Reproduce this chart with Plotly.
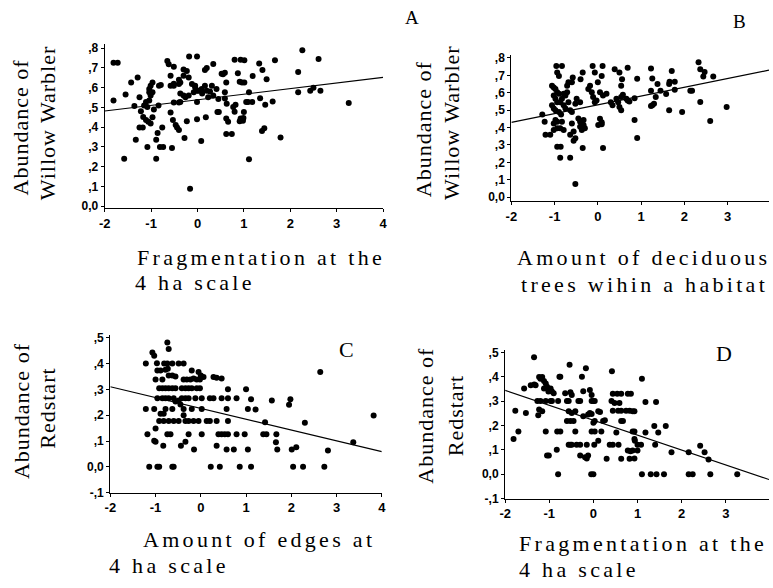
import plotly.graph_objects as go

W, H = 773, 588

# ---------------- data ----------------
# Panel A: Willow Warbler vs fragmentation (4 ha)
a_x = [-1.81, -1.72, -1.81, -1.55, -1.58, -1.43, -1.29, -1.36, -1.33, -1.25, -1.22, -1.25,
       -1.11, -1.15, -1.08, -1.04, -1.01, -1.04, -0.97, -1.01, -0.97, -1.04,
       -1.17, -1.11, -1.06, -1.01, -1.18,
       -1.08, -0.89, -0.89, -0.81, -0.74, -0.86, -0.76, -0.83, -0.79, -0.84, -0.94, -0.97,
       -0.65, -0.62, -0.51, -0.58, -0.55, -0.58, -0.51,
       -0.58, -0.53, -0.47, -0.44, -0.40,
       -0.37, -0.40, -0.37, -0.30, -0.23, -0.19, -0.28, -0.23, -0.30, -0.26, -0.19,
       -0.18, -0.01, -0.16,
       -0.12, -0.05, -0.08, -0.01, -0.01, -0.01, 0.08, 0.18, 0.16, 0.20, 0.34,
       0.09, 0.16, 0.20, 0.31, 0.41, 0.23, 0.34, 0.45,
       0.43, 0.46, 0.52, 0.55, 0.59, 0.62, 0.59, 0.59, 0.63, 0.62, 0.74, 0.62, 0.66,
       0.77, 0.82, 0.80, 0.87, 0.80, 0.93, 0.91, 0.96, 1.01, 0.93, 0.99, 0.91, 0.98, 1.05,
       -0.51, -0.40, -0.30, -0.05, 0.02, 0.10, 0.27, -0.37, -0.51, -0.40,
       1.33, 1.40, 1.19, 1.49, 1.67, 1.11, 1.09, 1.18, 1.35, 1.46, 1.62, 1.39, 1.44, 1.79,
       1.11, 2.26, 2.61, 2.17, 2.17, 2.43, 2.50, 2.65, 3.26, 1.01, 1.00]
a_y = [0.726, 0.726, 0.535, 0.565, 0.240, 0.626, 0.651, 0.507, 0.336, 0.552, 0.480, 0.398,
       0.527, 0.510, 0.502, 0.535, 0.560, 0.577, 0.577, 0.610, 0.626, 0.593,
       0.452, 0.436, 0.427, 0.419, 0.398,
       0.300, 0.240, 0.336, 0.300, 0.300, 0.370, 0.398, 0.610, 0.613, 0.510, 0.490, 0.450,
       0.735, 0.718, 0.706, 0.660, 0.295, 0.610, 0.610,
       0.474, 0.436, 0.411, 0.398, 0.386,
       0.527, 0.618, 0.626, 0.692, 0.684, 0.651, 0.345, 0.430, 0.560, 0.552, 0.560,
       0.758, 0.758, 0.088,
       0.618, 0.601, 0.577, 0.585, 0.527, 0.440, 0.330, 0.450, 0.690, 0.700, 0.720,
       0.593, 0.610, 0.585, 0.610, 0.593, 0.552, 0.560, 0.543,
       0.477, 0.477, 0.670, 0.668, 0.676, 0.626, 0.577, 0.545, 0.519, 0.365, 0.365, 0.444, 0.427,
       0.502, 0.514, 0.478, 0.673, 0.742, 0.742, 0.630, 0.626, 0.626, 0.444, 0.447, 0.430, 0.432, 0.527,
       0.620, 0.640, 0.660, 0.610, 0.585, 0.570, 0.580, 0.570, 0.525, 0.525,
       0.722, 0.690, 0.659, 0.643, 0.739, 0.577, 0.527, 0.527, 0.547, 0.514, 0.530, 0.380, 0.395, 0.348,
       0.237, 0.789, 0.745, 0.679, 0.577, 0.585, 0.600, 0.585, 0.522, 0.739, 0.477]

# Panel B: Willow Warbler vs deciduous trees
b_x = [-1.285, -1.23, -1.21, -1.10, -0.96, -0.83, -0.94, -0.90,
       -1.06, -1.02, -0.98, -0.94, -0.90, -1.02, -0.98, -0.94, -0.87, -0.83, -0.79, -0.75, -0.71, -0.68,
       -1.06, -1.02, -0.98, -0.90, -0.85, -0.79, -0.75,
       -0.98, -0.94, -0.83, -1.02, -0.94, -0.87, -1.02, -0.79,
       -0.94, -0.86, -0.87, -0.64,
       -0.71, -0.68, -0.60, -0.58, -0.64, -0.60,
       -0.60, -0.56, -0.64, -0.52, -0.56, -0.52,
       -0.49, -0.41, -0.52,
       -0.45, -0.41, -0.37, -0.33, -0.41, -0.30, -0.37, -0.33,
       -0.35, -0.35, -0.40, -0.22, -0.18, -0.14, -0.12, -0.07,
       -0.11, -0.03, -0.07, 0.05, 0.09, 0.01, 0.09, 0.11, 0.12,
       0.05, 0.12, 0.20, 0.00, 0.09, 0.30, 0.34, 0.39, 0.50,
       0.43, 0.47, 0.54, 0.58, 0.50, 0.54, 0.54, 0.56, 0.69, 0.66, 0.69, 0.73, 0.85, 0.91, 0.91,
       0.85, 1.23, 1.26, 1.23, 1.34, 1.38, 1.23, 1.26, 1.30, 1.45, 1.58, 1.65, 1.66, 1.71, 1.78,
       1.65, 1.78, 1.95, 2.14, 2.18, 2.33, 2.37, 2.47, 2.44, 2.37, 2.60, 2.67, 2.98]
b_y = [0.475, 0.433, 0.358, 0.358, 0.754, 0.754, 0.716, 0.697,
       0.641, 0.631, 0.622, 0.603, 0.594, 0.584, 0.565, 0.546, 0.546, 0.565, 0.594, 0.584, 0.603, 0.546,
       0.528, 0.509, 0.500, 0.490, 0.475, 0.528, 0.509,
       0.443, 0.433, 0.433, 0.424, 0.396, 0.396, 0.386, 0.386,
       0.290, 0.290, 0.226, 0.226,
       0.640, 0.660, 0.660, 0.688, 0.500, 0.490,
       0.424, 0.377, 0.358, 0.339, 0.324, 0.076,
       0.565, 0.546, 0.537,
       0.452, 0.433, 0.424, 0.415, 0.405, 0.396, 0.386, 0.443,
       0.283, 0.716, 0.678, 0.622, 0.641, 0.603, 0.754, 0.716,
       0.575, 0.556, 0.546, 0.450, 0.430, 0.415, 0.419, 0.754, 0.283,
       0.603, 0.584, 0.594, 0.660, 0.697, 0.546, 0.528, 0.735, 0.716,
       0.565, 0.546, 0.575, 0.588, 0.518, 0.500, 0.640, 0.678, 0.744, 0.565, 0.556, 0.550, 0.443, 0.680, 0.340,
       0.569, 0.739, 0.682, 0.612, 0.575, 0.650, 0.524, 0.528, 0.537, 0.612, 0.593, 0.650, 0.663, 0.725, 0.663,
       0.499, 0.618, 0.490, 0.612, 0.612, 0.776, 0.735, 0.720, 0.693, 0.547, 0.437, 0.693, 0.518]

# Panel C: Redstart vs amount of edges
c_x = [-1.215, -1.14, -0.96, -0.92, -0.63, -0.60,
       -1.07, -1.03, -0.74, -0.71,
       -0.97, -0.81, -0.74, -0.63, -0.49, -0.38,
       -0.96, -0.89, -0.78, -0.73, -1.00, -0.85, -0.71, -0.63, -0.56,
       -0.38, -0.31, -0.23, -0.16, -0.09, -0.02, -0.20, -0.05, 0.00, 0.06, 0.28, 0.35, 0.46,
       -0.92, -0.85, -0.78, -0.71, -0.63, -0.56, -0.42, -0.34, -0.27, -0.20, -0.09, -0.02, 0.60, 1.00,
       -0.96, -0.85, -0.78, -0.71, -0.60, -0.42, -0.34, -0.27, -0.12, 0.02, 0.20, 0.28, 0.46, 0.60, 0.79,
       -0.56, -0.49,
       -1.215, -1.03, -0.78, -0.63, -0.38, -0.20, 0.02, 0.57, 1.04, -0.45, -0.38,
       -0.89, -0.82,
       -0.92, -0.82, -0.71, -0.60, -0.49, -0.34, -0.27, -0.16, -0.05, 0.13, 0.20, 0.35, 0.60,
       -1.00,
       -1.18, -0.74, -0.67, -0.27, 0.02, 0.39, 0.46, 0.53, 0.60, 0.79, 0.97,
       -1.03, -1.00, -0.83, -0.44, -0.34, -0.15, 0.35, 0.57, 0.73,
       0.22, 0.42, 0.86,
       1.11, 1.21, 1.57, 1.98, 1.95, 2.64, 1.42, 2.30, 3.82, 1.38, 1.45, 1.67, 1.66,
       1.04, 1.69, 2.01, 2.11, 2.81, 3.37, 1.11, 2.04, 2.26, 2.73]
c_y = [0.400, 0.0, 0.0, 0.0, 0.0, 0.0,
       0.443, 0.430, 0.481, 0.456,
       0.401, 0.400, 0.400, 0.400, 0.400, 0.400,
       0.373, 0.373, 0.376, 0.380, 0.338, 0.338, 0.354, 0.354, 0.350,
       0.338, 0.338, 0.338, 0.342, 0.338, 0.338, 0.373, 0.367, 0.354, 0.348, 0.348, 0.345, 0.342,
       0.304, 0.304, 0.304, 0.304, 0.304, 0.304, 0.304, 0.304, 0.304, 0.304, 0.304, 0.304, 0.300, 0.300,
       0.266, 0.266, 0.266, 0.266, 0.266, 0.266, 0.266, 0.266, 0.266, 0.266, 0.266, 0.266, 0.266, 0.266, 0.266,
       0.253, 0.257,
       0.224, 0.224, 0.224, 0.224, 0.224, 0.224, 0.224, 0.224, 0.224, 0.241, 0.200,
       0.206, 0.206,
       0.177, 0.177, 0.177, 0.177, 0.177, 0.177, 0.177, 0.177, 0.177, 0.177, 0.177, 0.177, 0.177,
       0.148,
       0.126, 0.126, 0.126, 0.126, 0.126, 0.126, 0.126, 0.126, 0.126, 0.126, 0.126,
       0.101, 0.097, 0.082, 0.082, 0.097, 0.067, 0.082, 0.067, 0.067,
       0.0, 0.0, 0.0,
       0.262, 0.222, 0.257, 0.262, 0.240, 0.367, 0.173, 0.171, 0.199, 0.126, 0.126, 0.126, 0.095,
       0.067, 0.067, 0.067, 0.076, 0.063, 0.095, 0.0, 0.0, 0.0, 0.0]

# Panel D: Redstart vs fragmentation (4 ha)
d_x = [-1.345, -1.81, -1.70, -1.77, -1.53, -1.57, -1.42, -1.34, -1.31,
       -1.23, -1.20, -1.16, -1.12, -1.08, -1.05, -1.01, -0.97, -0.94, -1.02, -0.90, -1.12,
       -0.77, -0.75,
       -1.27, -1.20, -1.08, -0.97, -0.94, -0.80,
       -1.23, -1.16, -1.25,
       -1.08, -0.82, -0.75,
       -0.83, -1.05, -1.01, -0.80,
       -0.64, -0.52, -0.49, -0.54,
       -0.60, -0.56, -0.34, -0.30, -0.04, 0.00, 0.03,
       -0.56, -0.49, -0.41, -0.60, -0.52, -0.45, -0.41,
       -0.56, -0.52, -0.49, -0.38, -0.30, -0.15,
       -0.30, -0.19, -0.15, -0.12,
       -0.26, -0.17, -0.23, -0.08, -0.04,
       -0.23, -0.12, -0.08, -0.04, 0.00, 0.03, -0.04, 0.03,
       0.11, 0.15, 0.22, 0.26, 0.11, 0.02, -0.05, 0.00,
       0.42, 0.44, 0.54, 0.63, 0.78, 0.85, 0.41, 0.48, 0.59,
       0.44, 0.56, 0.63, 0.74, 0.82, 0.63, 0.67, 0.18, 0.52,
       0.37, 0.44, 0.57, 0.30, 0.63, 0.82, 0.78, 0.84, 0.89, 0.93, 0.94, 0.89, 0.93, 0.89, 0.93,
       1.10, 1.18, 1.42, 1.38, 1.64, 1.18, 1.47, 1.00, 1.08, 1.00, 0.93, 1.40, 1.77, 2.16,
       2.42, 2.52, 2.61, 1.10, 1.30, 1.43, 1.60, 2.16, 2.25, 2.65, 3.26]
d_y = [0.480, 0.144, 0.175, 0.260, 0.251, 0.352, 0.365, 0.368, 0.365,
       0.399, 0.392, 0.399, 0.382, 0.372, 0.359, 0.345, 0.352, 0.339, 0.339, 0.332, 0.352,
       0.400, 0.400,
       0.300, 0.300, 0.300, 0.300, 0.300, 0.300,
       0.265, 0.258, 0.242,
       0.175, 0.175, 0.175,
       0.100, 0.077, 0.077, 0.0,
       0.332, 0.336, 0.325, 0.449,
       0.300, 0.300, 0.300, 0.300, 0.300, 0.300, 0.300,
       0.258, 0.251, 0.258, 0.218, 0.218, 0.218, 0.175,
       0.121, 0.121, 0.121, 0.121, 0.121, 0.121,
       0.077, 0.070, 0.064, 0.077,
       0.400, 0.435, 0.340, 0.345, 0.325,
       0.238, 0.245, 0.251, 0.247, 0.211, 0.218, 0.175, 0.175,
       0.258, 0.255, 0.218, 0.221, 0.137, 0.121, 0.0, 0.0,
       0.422, 0.330, 0.330, 0.330, 0.330, 0.330, 0.300, 0.292, 0.292,
       0.260, 0.260, 0.260, 0.260, 0.260, 0.218, 0.218, 0.175, 0.171,
       0.121, 0.121, 0.121, 0.063, 0.063, 0.063, 0.097, 0.094, 0.097, 0.144, 0.137, 0.175, 0.175, 0.258, 0.258,
       0.392, 0.296, 0.296, 0.198, 0.198, 0.171, 0.171, 0.121, 0.121, 0.097, 0.064, 0.121, 0.090, 0.090,
       0.117, 0.090, 0.060, 0.0, 0.0, 0.0, 0.0, 0.0, 0.0, 0.0, 0.0]

# Regression lines (end points)
a_line_x, a_line_y = [-2, 4], [0.482, 0.652]
b_line_x, b_line_y = [-2, 3.96], [0.430, 0.730]
c_line_x, c_line_y = [-2, 4], [0.310, 0.059]
d_line_x, d_line_y = [-2, 3.98], [0.344, -0.022]

x_ticks = [-2, -1, 0, 1, 2, 3, 4]
x_tick_labels = ["-2", "-1", "0", "1", "2", "3", "4"]
ww_ticks = [0.0, 0.1, 0.2, 0.3, 0.4, 0.5, 0.6, 0.7, 0.8]
ww_tick_labels = ["0,0", ",1", ",2", ",3", ",4", ",5", ",6", ",7", ",8"]
rs_ticks = [-0.1, 0.0, 0.1, 0.2, 0.3, 0.4, 0.5]
rs_tick_labels = ["-,1", "0,0", ",1", ",2", ",3", ",4", ",5"]

# ---------------- figure ----------------
def px(x):
    return x / W

def py(y):
    return 1 - y / H

fig = go.Figure()

panels = [
    (a_x, a_y, a_line_x, a_line_y, "x", "y"),
    (b_x, b_y, b_line_x, b_line_y, "x2", "y2"),
    (c_x, c_y, c_line_x, c_line_y, "x3", "y3"),
    (d_x, d_y, d_line_x, d_line_y, "x4", "y4"),
]
for xs, ys, lx, ly, xa, ya in panels:
    fig.add_trace(go.Scatter(x=xs, y=ys, mode="markers", xaxis=xa, yaxis=ya,
                             marker=dict(color="black", size=6, line=dict(width=0)),
                             showlegend=False, hoverinfo="skip"))
    fig.add_trace(go.Scatter(x=lx, y=ly, mode="lines", xaxis=xa, yaxis=ya,
                             line=dict(color="black", width=1.1),
                             showlegend=False, hoverinfo="skip"))

def xax(domain, rng, anchor):
    return dict(domain=domain, range=rng, anchor=anchor, showgrid=False, zeroline=False,
                showline=True, linecolor="black", linewidth=1.3, ticks="outside",
                ticklen=3, tickwidth=1, tickcolor="black",
                tickvals=x_ticks, ticktext=["<b>%s</b>" % t for t in x_tick_labels],
                tickfont=dict(family="Liberation Sans", size=13, color="black"))

def yax(domain, rng, anchor, vals, labels):
    return dict(domain=domain, range=rng, anchor=anchor, showgrid=False, zeroline=False,
                showline=True, linecolor="black", linewidth=1.3, ticks="outside",
                ticklen=3, tickwidth=1, tickcolor="black",
                tickvals=vals, ticktext=["<b>%s</b>" % t for t in labels],
                tickfont=dict(family="Liberation Sans", size=12, color="black"))

fig.update_layout(
    width=W, height=H,
    margin=dict(l=0, r=0, t=0, b=0),
    paper_bgcolor="white", plot_bgcolor="white",
    xaxis=xax([px(100), px(382)], [-2, 4], "y"),
    yaxis=yax([py(208), py(41)], [-0.01, 0.82], "x", ww_ticks, ww_tick_labels),
    xaxis2=xax([px(512), 1.0], [-2, 3.96], "y2"),
    yaxis2=yax([py(200.7), py(52)], [-0.022, 0.817], "x2", ww_ticks, ww_tick_labels),
    xaxis3=xax([px(105.7), px(380.7)], [-2, 4], "y3"),
    yaxis3=yax([py(498), py(337.4)], [-0.1, 0.51], "x3", rs_ticks, rs_tick_labels),
    xaxis4=xax([px(505.7), 1.0], [-2, 3.98], "y4"),
    yaxis4=yax([py(504), py(352.5)], [-0.1, 0.51], "x4", rs_ticks, rs_tick_labels),
)

serif = "Liberation Serif"
ann = []

def text(t, x, y, size=22, angle=0, spacing=0.0):
    if spacing:
        t = '<span style="letter-spacing:%.1fpx">%s</span>' % (spacing, t)
    ann.append(dict(text=t, x=px(x), y=py(y), xref="paper", yref="paper",
                    showarrow=False, xanchor="center", yanchor="middle", textangle=angle,
                    font=dict(family=serif, size=size, color="black")))

# panel letters
text("A", 411, 14, 19)
text("B", 743, 18, 19)
text("C", 345, 352, 22)
text("D", 727, 356, 22)

# y titles
ys = 1.0
text("Abundance of", 15, 126, 22, -90, ys)
text("Willow Warbler", 42, 121, 22, -90, ys)
text("Abundance of", 423, 128, 22, -90, ys)
text("Willow Warbler", 452, 121, 22, -90, ys)
text("Abundance of", 15, 415, 22, -90, ys)
text("Redstart", 42, 412, 22, -90, ys)
text("Abundance of", 425, 420, 22, -90, ys)
text("Redstart", 455, 420, 22, -90, ys)

# x titles
sp = 3.3
text("Fragmentation at the", 258, 258, 22, 0, sp)
text("4 ha scale", 191, 284, 22, 0, sp)
text("Amount of deciduous", 646, 258, 22, 0, sp)
text("trees wihin a habitat", 647, 286, 22, 0, sp)
text("Amount of edges at", 256, 546, 22, 0, sp)
text("4 ha scale", 165, 572, 22, 0, sp)
text("Fragmentation at the", 645, 550, 22, 0, sp)
text("4 ha scale", 581, 576, 22, 0, sp)

fig.update_layout(annotations=ann)

fig.write_html("out.html", config={"displayModeBar": False},
               post_script="document.body.style.margin='0';")
